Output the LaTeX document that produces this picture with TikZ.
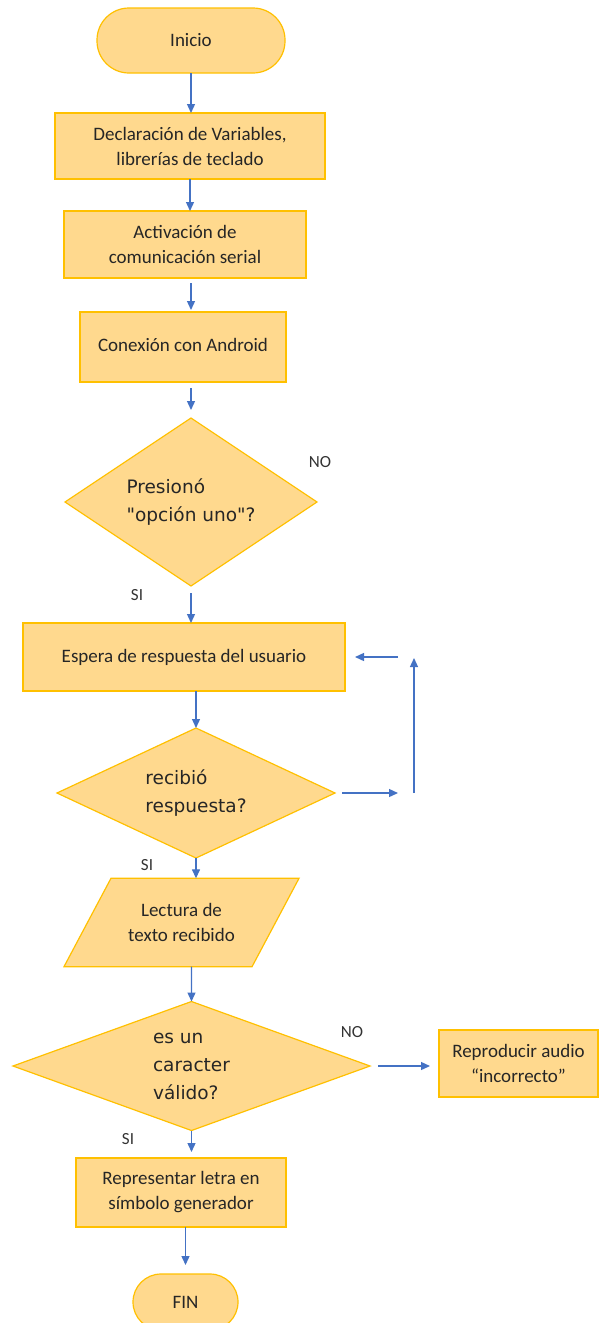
\documentclass[tikz,border=0pt]{standalone}
\usepackage{fontspec}
\setmainfont{Carlito}
\newfontfamily\decfont{DejaVu Sans}
\usepackage{tikz}
\usetikzlibrary{shapes.geometric, arrows.meta, positioning, calc}
\definecolor{boxfill}{HTML}{FFD98E}
\definecolor{boxline}{HTML}{FFC000}
\definecolor{arrblue}{HTML}{4472C4}

\begin{document}
\begin{tikzpicture}[
  x=1pt, y=-1pt,
  font=\fontsize{19pt}{25pt}\selectfont,
  base/.style={draw=boxline, fill=boxfill, line width=1.2pt, outer sep=0pt,
               inner sep=2pt, align=center, text=black!85},
  term/.style={base, rectangle, rounded corners=28pt},
  box/.style={base, rectangle},
  dec/.style={base, diamond, align=left,
              font=\decfont\fontsize{18.5pt}{28pt}\selectfont},
  io/.style={base, trapezium, trapezium left angle=62,
             trapezium right angle=118, trapezium stretches body=true,
             inner ysep=25pt},
  arr/.style={-{Triangle[length=9pt, width=8pt]}, draw=arrblue, line width=1.3pt},
  lbl/.style={font=\fontsize{17pt}{20pt}\selectfont, text=black!80}
]
  \clip (0,0) rectangle (599,1323);

  % Main column
  \node[term, rounded corners=32pt, minimum width=188pt, minimum height=65pt]
        (inicio) at (191,40.5) {Inicio};
  \node[box, minimum width=270pt, minimum height=66pt] (decl) at (190,146)
        {Declaración de Variables,\\librerías de teclado};
  \node[box, minimum width=242pt, minimum height=67pt] (serial) at (185,244.5)
        {Activación de\\comunicación serial};
  \node[box, minimum width=206pt, minimum height=70pt] (android) at (183,347)
        {\raisebox{5pt}{Conexión con Android}};
  \node[dec, aspect=1.5, minimum width=252pt, minimum height=168pt] (opcion)
        at (191,502) {Presionó\\"opción uno"?};
  \node[box, minimum width=322pt, minimum height=68pt] (espera) at (184,657)
        {Espera de respuesta del usuario};
  \node[dec, aspect=2.14, minimum width=278pt, minimum height=130pt] (recibio)
        at (196,793) {recibió\\respuesta?};
  \node[io, minimum width=235pt] (lectura) at (181.5,922.5)
        {Lectura de\\texto recibido};
  \node[dec, aspect=2.77, minimum width=357pt, minimum height=129pt] (valido)
        at (191.5,1066) {es un\\caracter\\válido?};
  \node[box, minimum width=210pt, minimum height=69pt] (letra) at (181,1192.5)
        {Representar letra en\\símbolo generador};
  \node[term, minimum width=105pt, minimum height=56pt] (fin) at (185.5,1302) {FIN};
  % Side box
  \node[box, minimum width=159pt, minimum height=67pt] (audio) at (518.5,1063.5)
        {Reproducir audio\\“incorrecto”};

  % Branch labels
  \node[lbl] (no1) at (320,462)  {NO};
  \node[lbl] (si1) at (137,595)  {SI};
  \node[lbl] (si2) at (147,865)  {SI};
  \node[lbl] (no2) at (352,1032) {NO};
  \node[lbl] (si3) at (128,1139) {SI};

  % Loop corner points
  \coordinate (loopa) at (398,793);
  \coordinate (loopb) at (414,793);
  \coordinate (loopc) at (414,658);
  \coordinate (loopd) at (398,657);

  % Main flow
  \draw[arr] (inicio.south) -- (inicio.south |- decl.north);
  \draw[arr] (decl.south) -- (decl.south |- serial.north);
  \draw[arr, shorten <=5pt, shorten >=2pt] (serial.south -| opcion.north) -- (android.north -| opcion.north);
  \draw[arr, shorten <=6pt, shorten >=8pt] (android.south -| opcion.north) -- (opcion.north);
  \draw[arr, shorten <=7pt] (opcion.south) -- (opcion.south |- espera.north);
  \draw[arr] (espera.south -| recibio.north) -- (recibio.north);
  \draw[arr] (recibio.south) -- (recibio.south |- lectura.north);
  \draw[arr] ([xshift=10pt]lectura.south) -- (valido.north);
  \draw[arr, shorten >=6pt] (valido.south) -- (valido.south |- letra.north);
  \draw[arr, shorten >=9pt] (letra.south -| fin.north) -- (fin.north);

  % No answer: back to waiting
  \draw[arr, shorten <=7pt] (recibio.east) -- (loopa);
  \draw[arr] (loopb) -- (loopc);
  \draw[arr, shorten >=10pt] (loopd) -- (loopd -| espera.east);

  % Invalid character
  \draw[arr, shorten <=8pt, shorten >=9pt] (valido.east) -- (valido.east -| audio.west);
\end{tikzpicture}
\end{document}
